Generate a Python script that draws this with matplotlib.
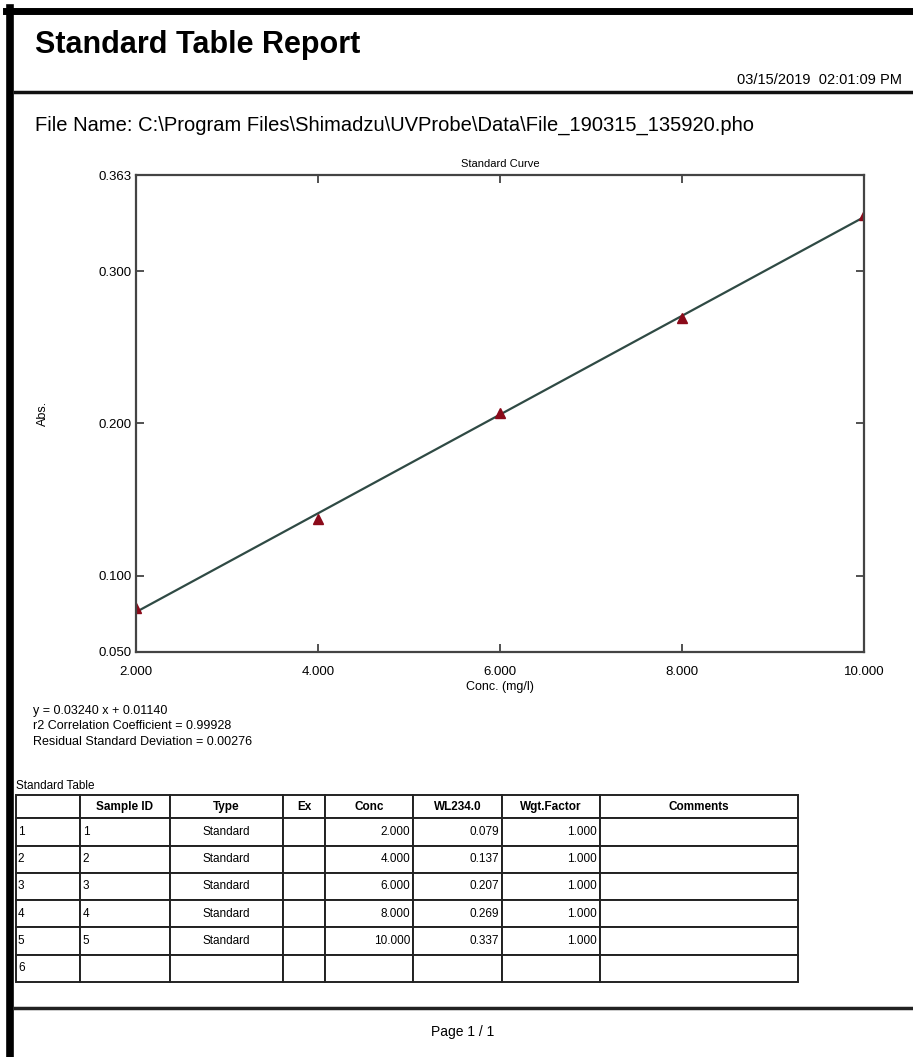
import matplotlib
matplotlib.use("Agg")
import matplotlib.pyplot as plt
from matplotlib.table import Table
import numpy as np

plt.rcParams['font.family'] = ['Liberation Sans', 'DejaVu Sans']

# standards
conc = [2.0, 4.0, 6.0, 8.0, 10.0]
absorb = [0.079, 0.137, 0.207, 0.269, 0.337]
slope = 0.03240
intercept = 0.01140
r2 = 0.99928
rsd = 0.00276

x_ticks = [2.0, 4.0, 6.0, 8.0, 10.0]
y_ticks = [0.050, 0.100, 0.200, 0.300, 0.363]

col_names = ['', 'Sample ID', 'Type', 'Ex', 'Conc', 'WL234.0', 'Wgt.Factor', 'Comments']
row_ids = ['1', '2', '3', '4', '5', '6']
sample_ids = ['1', '2', '3', '4', '5', '']
types = ['Standard'] * 5 + ['']
wgt = ['1.000'] * 5 + ['']

W, H = 913, 1057
fig = plt.figure(figsize=(W / 100, H / 100), dpi=100)
fig.patch.set_facecolor('white')


def fx(px):
    return px / W


def fy(py):
    return 1 - py / H


# page frame (black edges of the scan)
fig.add_artist(plt.Line2D([fx(6), fx(913)], [fy(11), fy(11)], color='black', lw=5))
fig.add_artist(plt.Line2D([fx(10), fx(10)], [fy(8), fy(1057)], color='black', lw=5.5))

fig.text(fx(35), fy(45), 'Standard Table Report', fontsize=22, fontweight='bold', va='center', ha='left')
fig.text(fx(902), fy(80), '03/15/2019  02:01:09 PM', fontsize=10.5, va='center', ha='right')
fig.add_artist(plt.Line2D([fx(15), fx(913)], [fy(92), fy(92)], color='#111111', lw=2.5))
fig.text(fx(35), fy(125), r'File Name: C:\Program Files\Shimadzu\UVProbe\Data\File_190315_135920.pho',
         fontsize=14.5, va='center', ha='left')

# standard curve
ax = fig.add_axes([fx(136), fy(652), fx(864) - fx(136), fy(175) - fy(652)])
xx = np.array([x_ticks[0], x_ticks[-1]])
ax.plot(xx, slope * xx + intercept, color='#2f4a44', lw=1.6)
ax.plot(conc, absorb, linestyle='none', marker='^', color='#8b0a1a', markersize=6.5)
ax.set_xlim(x_ticks[0], x_ticks[-1])
ax.set_ylim(y_ticks[0], y_ticks[-1])
ax.set_xticks(x_ticks)
ax.set_xticklabels([f'{v:.3f}' for v in x_ticks], fontsize=9.5)
ax.set_yticks(y_ticks)
ax.set_yticklabels([f'{v:.3f}' for v in y_ticks], fontsize=9.5)
ax.tick_params(direction='in', length=6, width=1.2, color='#333333', top=True, right=True)
ax.tick_params(axis='x', pad=10)
ax.tick_params(axis='y', pad=3)
for s in ax.spines.values():
    s.set_color('#444444')
    s.set_linewidth(1.6)
ax.set_title('Standard Curve', fontsize=8, pad=6)
ax.set_xlabel('Conc. (mg/l)', fontsize=9, labelpad=2)
ax.set_ylabel('Abs.', fontsize=9, labelpad=36)

fig.text(fx(33), fy(711), f'y = {slope:.5f} x + {intercept:.5f}', fontsize=9, va='center')
fig.text(fx(33), fy(726), f'r2 Correlation Coefficient = {r2:.5f}', fontsize=9, va='center')
fig.text(fx(33), fy(742), f'Residual Standard Deviation = {rsd:.5f}', fontsize=9, va='center')

# standard table
fig.text(fx(16), fy(786), 'Standard Table', fontsize=8.5, va='center')
tax = fig.add_axes([fx(16), fy(982), fx(798) - fx(16), fy(795) - fy(982)])
tax.axis('off')
col_w = [64, 90, 113, 42, 88, 89, 98, 198]
tot_w = sum(col_w)
head_h, row_h = 23, 27
tot_h = head_h + row_h * len(row_ids)
tbl = Table(tax, bbox=[0, 0, 1, 1])
for j, name in enumerate(col_names):
    c = tbl.add_cell(0, j, col_w[j] / tot_w, head_h / tot_h, text=name, loc='center',
                     edgecolor='#222222', facecolor='white')
    c.get_text().set_fontweight('bold')
    c.get_text().set_fontsize(8.5)
aligns = ['left', 'left', 'center', 'center', 'right', 'right', 'right', 'left']
for i in range(len(row_ids)):
    vals = [row_ids[i], sample_ids[i], types[i], '',
            f'{conc[i]:.3f}' if i < len(conc) else '',
            f'{absorb[i]:.3f}' if i < len(absorb) else '',
            wgt[i], '']
    for j, v in enumerate(vals):
        c = tbl.add_cell(i + 1, j, col_w[j] / tot_w, row_h / tot_h, text=v, loc=aligns[j],
                         edgecolor='#222222', facecolor='white')
        c.get_text().set_fontsize(8.5)
        c.PAD = 0.03
tbl.auto_set_font_size(False)
for c in tbl.get_celld().values():
    c.set_linewidth(1.4)
tax.add_table(tbl)

fig.add_artist(plt.Line2D([fx(15), fx(913)], [fy(1008), fy(1008)], color='#222222', lw=2.5))
fig.text(fx(463), fy(1032), 'Page 1 / 1', fontsize=10, ha='center', va='center')

fig.savefig('out.png', dpi=100, facecolor='white')
